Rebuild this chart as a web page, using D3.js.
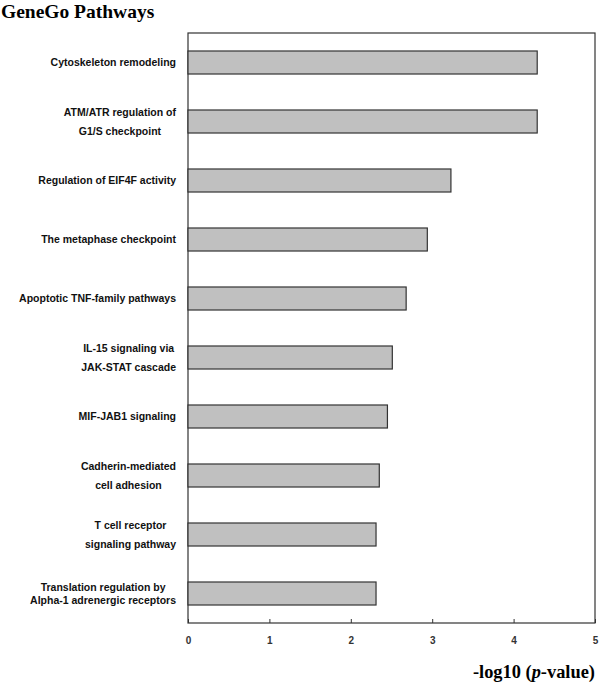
<!DOCTYPE html>
<html>
<head>
<meta charset="utf-8">
<script src="https://d3js.org/d3.v7.min.js"></script>
<style>
  body { margin: 0; background: #fff; }
  svg { display: block; }
  .cat-label { font-family: "Liberation Sans", Arial, sans-serif; font-weight: bold; font-size: 10.5px; fill: #111; }
  .x-axis-g text { font-family: "Liberation Sans", Arial, sans-serif; font-weight: bold; font-size: 10px; fill: #333; }
  .x-axis-g line { stroke: #333; }
  .serif { font-family: "Liberation Serif", "Times New Roman", serif; font-weight: bold; fill: #000; }
</style>
</head>
<body>
<svg id="chart" width="600" height="684"></svg>
<script>
// pathway names (\n = line break as in the figure)
const pathways = [
  "Cytoskeleton remodeling",
  "ATM/ATR regulation of\nG1/S checkpoint",
  "Regulation of EIF4F activity",
  "The metaphase checkpoint",
  "Apoptotic TNF-family pathways",
  "IL-15 signaling via\nJAK-STAT cascade",
  "MIF-JAB1 signaling",
  "Cadherin-mediated\ncell adhesion",
  "T cell receptor\nsignaling pathway",
  "Translation regulation by\nAlpha-1 adrenergic receptors"
];
// -log10(p-value)
const negLogP = [4.29, 4.29, 3.23, 2.94, 2.68, 2.51, 2.45, 2.35, 2.31, 2.31];
const xTicks = [0, 1, 2, 3, 4, 5];

const config = {
  containerWidth: 600,
  containerHeight: 684,
  margin: { top: 33, bottom: 61, left: 188, right: 5 }
};
const width = config.containerWidth - config.margin.left - config.margin.right;
const height = config.containerHeight - config.margin.top - config.margin.bottom;

const svg = d3.select('svg#chart');
const g = svg.append('g')
  .attr('transform', `translate(${config.margin.left},${config.margin.top})`);

const xScale = d3.scaleLinear()
  .domain([0, 5])
  .range([0, width]);

const yScale = d3.scaleBand()
  .domain(pathways)
  .range([0, height])
  .paddingInner(0.61)
  .paddingOuter(0.305);

// frame
g.append('rect')
  .attr('x', 0).attr('y', 0)
  .attr('width', width).attr('height', height)
  .attr('fill', 'none')
  .attr('stroke', '#333')
  .attr('stroke-width', 1.2);

// bars
g.append('g')
  .selectAll('rect')
  .data(pathways)
  .enter()
  .append('rect')
  .attr('x', xScale(0))
  .attr('y', d => yScale(d))
  .attr('width', (d, i) => xScale(negLogP[i]) - xScale(0))
  .attr('height', yScale.bandwidth())
  .attr('fill', '#c0c0c0')
  .attr('stroke', '#333')
  .attr('stroke-width', 1.2);

// x axis, small ticks pointing up into the plot
const xAxis = d3.axisBottom(xScale)
  .tickValues(xTicks)
  .tickFormat(d3.format('d'))
  .tickSizeInner(-4)
  .tickSizeOuter(0)
  .tickPadding(13.5);

const xAxisG = g.append('g')
  .attr('class', 'x-axis-g')
  .attr('transform', `translate(0,${height})`)
  .call(xAxis);
xAxisG.select('.domain').remove();

// category labels: each block right-aligned, lines centred inside the block
const labelRight = -12;
const labels = g.append('g');
pathways.forEach((name, i) => {
  const lines = name.split('\n');
  const lineGap = i === pathways.length - 1 ? 13.3 : 19.2; // last label is set tighter
  const cy = yScale(name) + yScale.bandwidth() / 2;
  const t = labels.append('text')
    .attr('class', 'cat-label')
    .attr('text-anchor', 'middle');
  const spans = lines.map((line, k) =>
    t.append('tspan')
      .attr('y', cy + 3.8 + (k - (lines.length - 1) / 2) * lineGap)
      .text(line));
  const maxW = d3.max(spans, s => s.node().getComputedTextLength());
  spans.forEach(s => s.attr('x', labelRight - maxW / 2));
});

// title
svg.append('text')
  .attr('class', 'serif')
  .attr('x', 1)
  .attr('y', 18)
  .attr('font-size', 19.5)
  .text('GeneGo Pathways');

// x axis title
const xt = svg.append('text')
  .attr('class', 'serif')
  .attr('x', config.margin.left + width)
  .attr('y', 678)
  .attr('font-size', 18.4)
  .attr('text-anchor', 'end');
xt.append('tspan').text('-log10 (');
xt.append('tspan').attr('font-style', 'italic').text('p');
xt.append('tspan').text('-value)');
</script>
</body>
</html>
